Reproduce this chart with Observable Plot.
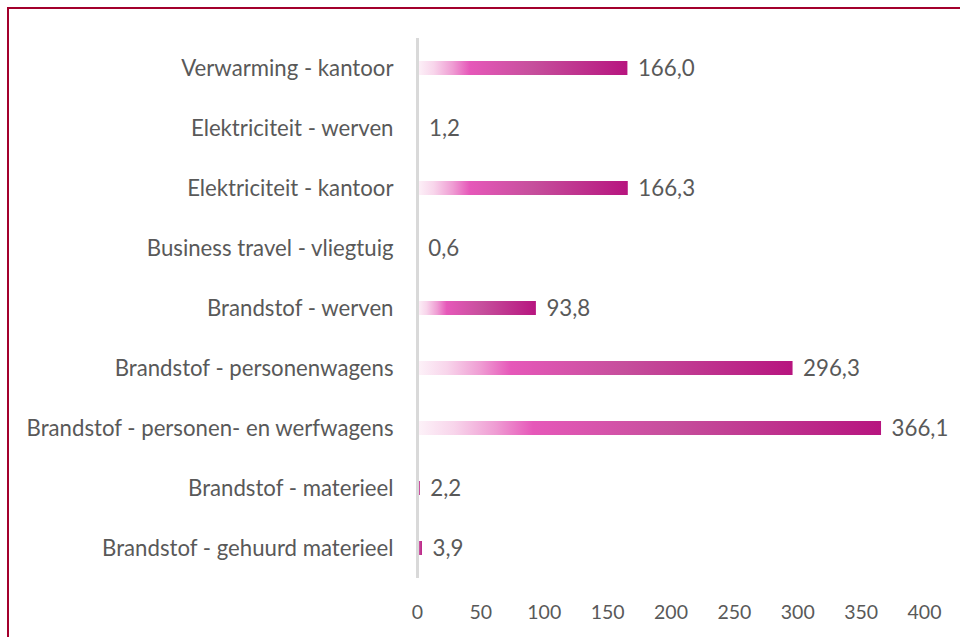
<!DOCTYPE html>
<html>
<head>
<meta charset="utf-8">
<script src="https://cdn.jsdelivr.net/npm/d3@7"></script>
<script src="https://cdn.jsdelivr.net/npm/@observablehq/plot@0.6"></script>
<style>
  html, body { margin: 0; padding: 0; background: #fff; }
  #wrap { position: relative; width: 960px; height: 637px; overflow: hidden; }
  #frame { position: absolute; left: 7px; top: 7px; width: 1000px; height: 1000px;
           border-top: 2px solid #a3002c; border-left: 2px solid #a3002c; box-sizing: border-box; pointer-events: none; }
</style>
</head>
<body>
<div id="wrap"><div id="frame"></div></div>
<script>
const categories = [
  "Verwarming - kantoor",
  "Elektriciteit - werven",
  "Elektriciteit - kantoor",
  "Business travel - vliegtuig",
  "Brandstof - werven",
  "Brandstof - personenwagens",
  "Brandstof - personen- en werfwagens",
  "Brandstof - materieel",
  "Brandstof - gehuurd materieel"
];
const values = [166.0, 1.2, 166.3, 0.6, 93.8, 296.3, 366.1, 2.2, 3.9];
const xTicks = [0, 50, 100, 150, 200, 250, 300, 350, 400];

const data = categories.map((c, i) => ({category: c, value: values[i]}));
const fmt = v => v.toFixed(1).replace(".", ",");

const chart = Plot.plot({
  width: 960,
  height: 637,
  marginLeft: 417,
  marginRight: 36,
  marginTop: 38,
  marginBottom: 59,
  style: {fontFamily: "Lato, sans-serif", background: "transparent"},
  x: {domain: [0, 400], ticks: xTicks, tickSize: 0, tickPadding: 27, label: null},
  y: {domain: categories, padding: 0, tickSize: 0, tickPadding: 24, label: null},
  marks: [
    Plot.barX(data, {x: "value", y: "category", fill: "url(#barGrad)", insetTop: 23, insetBottom: 23}),
    Plot.ruleX([0], {stroke: "#d9d9d9", strokeWidth: 3}),
    Plot.text(data, {x: "value", y: "category", text: d => fmt(d.value), textAnchor: "start", dx: 10, fill: "#595959", fontSize: 22.3})
  ]
});

const svg = d3.select(chart);
const defs = svg.insert("defs", ":first-child");
const grad = defs.append("linearGradient").attr("id", "barGrad").attr("x1", "0").attr("x2", "1").attr("y1", "0").attr("y2", "0");
[[0, "#fdf3f9"], [0.08, "#f8d5eb"], [0.17, "#ef9cd3"], [0.25, "#e658b9"], [0.55, "#c64f9c"], [1, "#b7157f"]]
  .forEach(([o, c]) => grad.append("stop").attr("offset", o).attr("stop-color", c));

svg.selectAll("g[aria-label='y-axis tick label']").style("font-size", "22.2px").attr("fill", "#595959");
svg.selectAll("g[aria-label='x-axis tick label']").style("font-size", "19.5px").attr("fill", "#595959");
svg.selectAll("g[aria-label='x-axis tick label'] text, g[aria-label='y-axis tick label'] text").attr("fill", "#595959");

document.getElementById("wrap").prepend(chart);
</script>
</body>
</html>
